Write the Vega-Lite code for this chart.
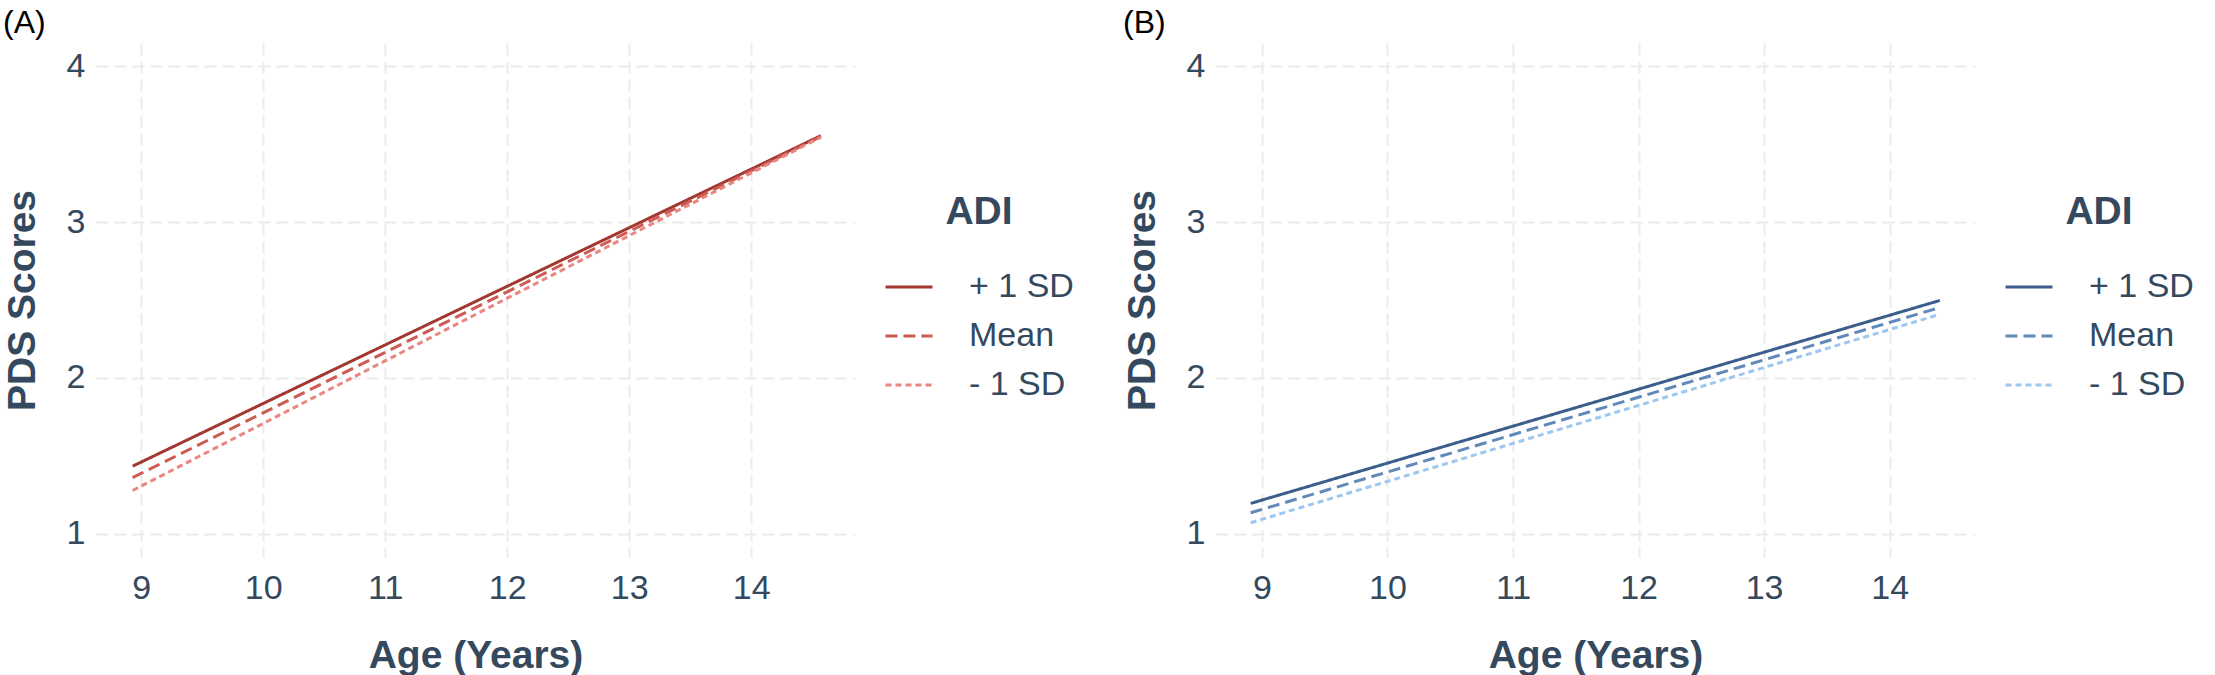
{
  "$schema": "https://vega.github.io/schema/vega-lite/v6.json",
  "background": "white",
  "padding": {"left": 3, "top": 7, "right": 0, "bottom": 0},
  "autosize": {"type": "pad"},
  "datasets": {
    "lines": [
      {"panel": "A", "ADI": "+ 1 SD", "age": 8.93, "pds": 1.433},
      {"panel": "A", "ADI": "+ 1 SD", "age": 14.57, "pds": 3.555},
      {"panel": "A", "ADI": "Mean", "age": 8.93, "pds": 1.36},
      {"panel": "A", "ADI": "Mean", "age": 14.57, "pds": 3.55},
      {"panel": "A", "ADI": "- 1 SD", "age": 8.93, "pds": 1.277},
      {"panel": "A", "ADI": "- 1 SD", "age": 14.57, "pds": 3.545},
      {"panel": "B", "ADI": "+ 1 SD", "age": 8.91, "pds": 1.194},
      {"panel": "B", "ADI": "+ 1 SD", "age": 14.4, "pds": 2.497},
      {"panel": "B", "ADI": "Mean", "age": 8.91, "pds": 1.134},
      {"panel": "B", "ADI": "Mean", "age": 14.4, "pds": 2.452},
      {"panel": "B", "ADI": "- 1 SD", "age": 8.91, "pds": 1.07},
      {"panel": "B", "ADI": "- 1 SD", "age": 14.4, "pds": 2.408}
    ]
  },
  "hconcat": [
    {
      "width": 759,
      "height": 514,
      "title": {"text": "(A)"},
      "data": {"name": "lines"},
      "transform": [{"filter": "datum.panel == 'A'"}],
      "mark": {"type": "line", "strokeWidth": 3, "clip": true},
      "encoding": {
        "x": {
          "field": "age", "type": "quantitative", "title": "Age (Years)",
          "scale": {"domain": [8.63, 14.85], "nice": false, "zero": false},
          "axis": {"values": [9, 10, 11, 12, 13, 14], "format": "d"}
        },
        "y": {
          "field": "pds", "type": "quantitative", "title": "PDS Scores",
          "scale": {"domain": [0.85, 4.15], "nice": false, "zero": false},
          "axis": {"values": [1, 2, 3, 4], "format": "d"}
        },
        "color": {
          "field": "ADI", "type": "nominal",
          "scale": {"domain": ["+ 1 SD", "Mean", "- 1 SD"], "range": ["#A23830", "#CD5A54", "#EA8680"]}
        },
        "strokeDash": {
          "field": "ADI", "type": "nominal",
          "scale": {"domain": ["+ 1 SD", "Mean", "- 1 SD"], "range": [[1, 0], [12, 6], [6, 4]]}
        },
        "detail": {"field": "ADI"}
      }
    },
    {
      "width": 759,
      "height": 514,
      "title": {"text": "(B)"},
      "data": {"name": "lines"},
      "transform": [{"filter": "datum.panel == 'B'"}],
      "mark": {"type": "line", "strokeWidth": 3, "clip": true},
      "encoding": {
        "x": {
          "field": "age", "type": "quantitative", "title": "Age (Years)",
          "scale": {"domain": [8.634, 14.68], "nice": false, "zero": false},
          "axis": {"values": [9, 10, 11, 12, 13, 14], "format": "d"}
        },
        "y": {
          "field": "pds", "type": "quantitative", "title": "PDS Scores",
          "scale": {"domain": [0.85, 4.15], "nice": false, "zero": false},
          "axis": {"values": [1, 2, 3, 4], "format": "d"}
        },
        "color": {
          "field": "ADI", "type": "nominal",
          "scale": {"domain": ["+ 1 SD", "Mean", "- 1 SD"], "range": ["#3C5E8D", "#6189B9", "#9DC7EF"]}
        },
        "strokeDash": {
          "field": "ADI", "type": "nominal",
          "scale": {"domain": ["+ 1 SD", "Mean", "- 1 SD"], "range": [[1, 0], [12, 6], [6, 4]]}
        },
        "detail": {"field": "ADI"}
      }
    }
  ],
  "spacing": 49,
  "resolve": {"scale": {"color": "independent", "strokeDash": "independent", "x": "independent"}, "legend": {"color": "independent", "strokeDash": "independent"}},
  "config": {
    "font": "Liberation Sans",
    "view": {"stroke": null},
    "title": {"anchor": "start", "frame": "bounds", "fontSize": 32, "fontWeight": "normal", "color": "#000000", "offset": 3},
    "axis": {
      "domain": false,
      "ticks": false,
      "grid": true,
      "gridColor": "#EBEBEB",
      "gridWidth": 2,
      "gridDash": [12, 6],
      "labelFontSize": 34,
      "labelColor": "#34495E",
      "titleFontSize": 39,
      "titleFontWeight": "bold",
      "titleColor": "#34495E"
    },
    "axisX": {"labelPadding": 14, "titlePadding": 31},
    "axisY": {"labelPadding": 11, "titlePadding": 24},
    "legend": {
      "orient": "none",
      "legendX": 788,
      "legendY": 150,
      "padding": 0,
      "symbolType": "stroke",
      "symbolSize": 2209,
      "symbolStrokeWidth": 3,
      "labelFontSize": 34,
      "labelColor": "#34495E",
      "labelOffset": 35,
      "rowPadding": 7,
      "titleFontSize": 39,
      "titleFontWeight": "bold",
      "titleColor": "#34495E",
      "titleAnchor": "middle",
      "titleAlign": "center",
      "titlePadding": 30
    }
  }
}
